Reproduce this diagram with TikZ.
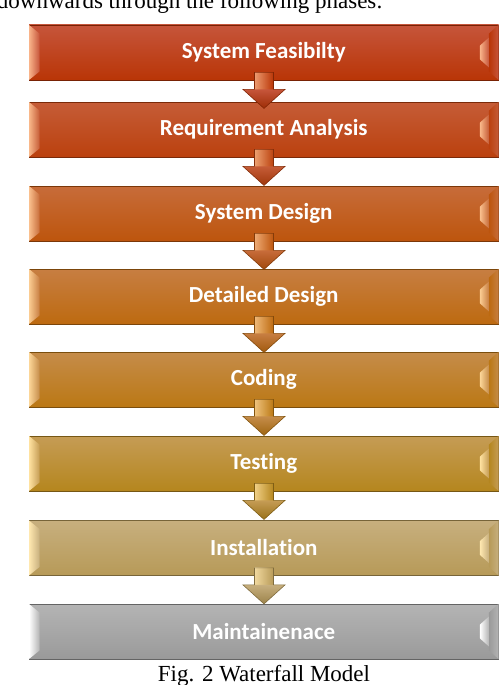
\documentclass[tikz,border=0pt]{standalone}
\usepackage{fontspec}
\setmainfont{Liberation Serif}
\newfontfamily\calib[Ligatures={NoCommon,NoContextual}]{Carlito}
\usetikzlibrary{calc}
\definecolor{t1}{HTML}{C6553B}\definecolor{d1}{HTML}{B93506}\definecolor{h1}{HTML}{F9B48A}
\definecolor{t2}{HTML}{C55C37}\definecolor{d2}{HTML}{BB410E}\definecolor{h2}{HTML}{F9B88A}
\definecolor{t3}{HTML}{C76C3A}\definecolor{d3}{HTML}{BD550D}\definecolor{h3}{HTML}{FAC08E}
\definecolor{t4}{HTML}{C77E42}\definecolor{d4}{HTML}{BD6A10}\definecolor{h4}{HTML}{FBCC92}
\definecolor{t5}{HTML}{C58C4A}\definecolor{d5}{HTML}{BB7814}\definecolor{h5}{HTML}{FCD698}
\definecolor{t6}{HTML}{C59C55}\definecolor{d6}{HTML}{B5861E}\definecolor{h6}{HTML}{FFE2A0}
\definecolor{t7}{HTML}{C7AF7E}\definecolor{d7}{HTML}{B79A58}\definecolor{h7}{HTML}{FFE8B0}
\definecolor{t8}{HTML}{B4B4B4}\definecolor{d8}{HTML}{9A9A9A}\definecolor{h8}{HTML}{FFFFFF}
\tikzset{
  phase/.style 2 args={rectangle, minimum width=469.5pt, minimum height=55pt, inner sep=0pt,
    top color=#1, bottom color=#2, draw=#2!65!black, line width=0.8pt,
    text=white, font=\calib\bfseries\fontsize{23}{27}\selectfont},
  captext/.style={inner sep=0pt, font=\fontsize{23}{27}\selectfont}
}
\begin{document}
\begin{tikzpicture}[x=1pt,y=-1pt]
\useasboundingbox (0,0) rectangle (500,685);
\node[captext, anchor=base east] (intro) at (383,9) {downwards through the following phases:};
\node[phase={t1}{d1}] (b1) at (263.75,52.5) {System Feasibilty};
\node[phase={t2}{d2}] (b2) at (263.75,129.5) {Requirement Analysis};
\node[phase={t3}{d3}] (b3) at (263.75,213.5) {System Design};
\node[phase={t4}{d4}] (b4) at (263.75,296.5) {Detailed Design};
\node[phase={t5}{d5}] (b5) at (263.75,379.5) {Coding};
\node[phase={t6}{d6}] (b6) at (263.75,463.5) {Testing};
\node[phase={t7}{d7}] (b7) at (263.75,548) {Installation};
\node[phase={t8}{d8}] (b8) at (263.75,631.5) {Maintainenace};
\node[captext, anchor=base] (cap) at (264,681.5) {Fig. 2 Waterfall Model};
% bevels
\foreach \bx/\tc/\dc/\hc in {b1/t1/d1/h1,b2/t2/d2/h2,b3/t3/d3/h3,b4/t4/d4/h4,b5/t5/d5/h5,b6/t6/d6/h6,b7/t7/d7/h7,b8/t8/d8/h8}{
  \shade[left color=\hc, right color=\tc] ($(\bx.north west)+(0.4,0.4)$) -- ($(\bx.north west)+(11,9)$) -- ($(\bx.south west)+(11,-9)$) -- ($(\bx.south west)+(0.4,-0.4)$) -- cycle;
  \shade[left color=\dc, right color=\tc] ($(\bx.north east)+(-0.4,0.4)$) -- ($(\bx.north east)+(-10,9)$) -- ($(\bx.south east)+(-10,-9)$) -- ($(\bx.south east)+(-0.4,-0.4)$) -- cycle;
  \shade[left color=\hc, right color=\tc] ($(\bx.north east)+(-10,13)$) -- ($(\bx.north east)+(-19,21)$) -- ($(\bx.south east)+(-19,-21)$) -- ($(\bx.south east)+(-10,-13)$) -- cycle;
}
% arrows
\foreach \ba/\tc/\dc/\hc in {b1/t1/d1/h1,b2/t2/d2/h2,b3/t3/d3/h3,b4/t4/d4/h4,b5/t5/d5/h5,b6/t6/d6/h6,b7/t7/d7/h7}{
  \shade[left color=\hc!80!\dc, right color=\dc] ($(\ba.south)+(-9.25,-8)$) rectangle ($(\ba.south)+(9.75,9)$);
  \shade[top color=\tc, bottom color=\dc!85!black] ($(\ba.south)+(-20.75,9)$) -- ($(\ba.south)+(21.25,9)$) -- ($(\ba.south)+(0.25,28)$) -- cycle;
  \draw[\dc!70!black, line width=0.6pt, line join=miter] ($(\ba.south)+(-9.25,-8)$) -- ($(\ba.south)+(9.75,-8)$) -- ($(\ba.south)+(9.75,9)$) -- ($(\ba.south)+(21.25,9)$) -- ($(\ba.south)+(0.25,28)$) -- ($(\ba.south)+(-20.75,9)$) -- ($(\ba.south)+(-9.25,9)$) -- cycle;
}
\end{tikzpicture}
\end{document}
